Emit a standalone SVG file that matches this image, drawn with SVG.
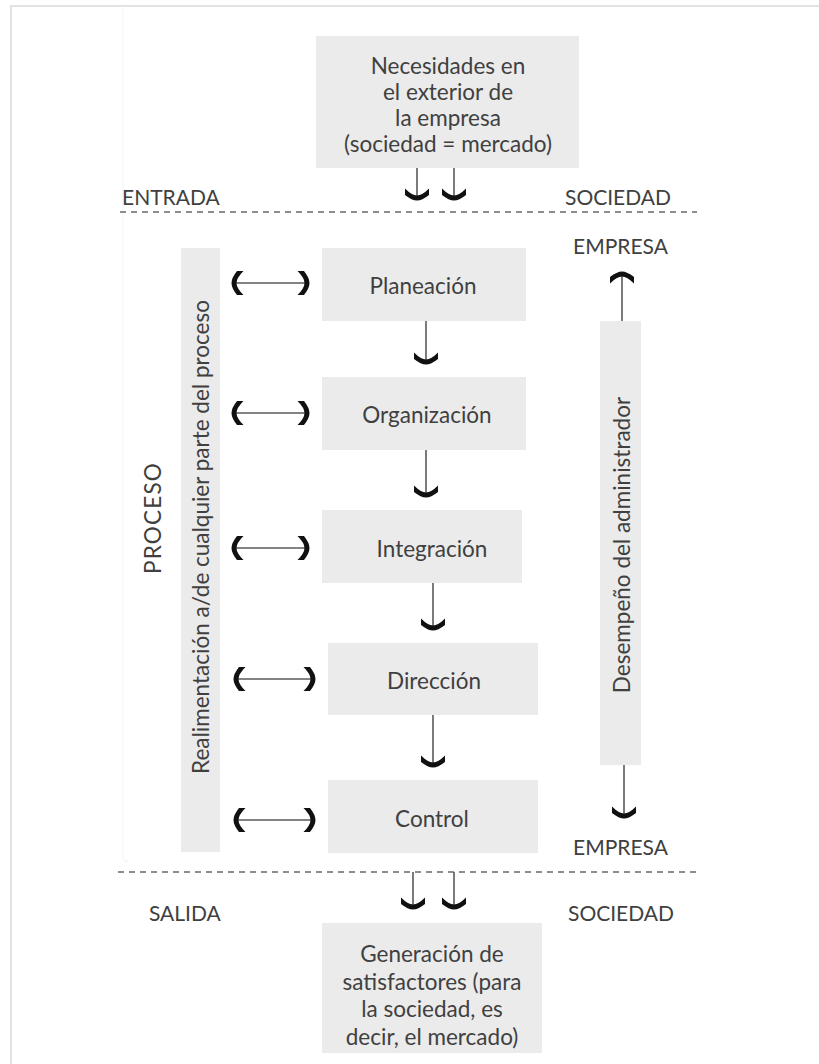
<svg xmlns="http://www.w3.org/2000/svg" width="819" height="1064" viewBox="0 0 819 1064">
  <style>
    .box { fill: #ebebeb; }
    .lbl { font-family: Lato, "Open Sans", "Liberation Sans", sans-serif; fill: #404040; font-size: 22.5px; }
    .mid { text-anchor: middle; dominant-baseline: central; }
    .cap { font-size: 21px; dominant-baseline: central; }
    .flow { stroke: #5a5a5a; stroke-width: 1.6; fill: none; }
    .dash { stroke: #6a6a6a; stroke-width: 1.3; stroke-dasharray: 6 5; fill: none; }
  </style>
  <defs>
    <!-- bold bracket-style arrowhead, tip towards +x -->
    <marker id="head" markerUnits="userSpaceOnUse" markerWidth="16" markerHeight="28" viewBox="-11 -14 16 28" refX="0" refY="0" orient="auto-start-reverse">
      <path d="M-2,-12 Q3.5,-5 3.5,0 Q3.5,5 -2,12 L-8.5,12 Q-1.5,5 -1.5,0 Q-1.5,-5 -8.5,-12 Z" fill="#111"/>
    </marker>
  </defs>

  <rect width="819" height="1064" fill="#ffffff"/>
  <!-- page frame -->
  <path d="M11,1064 V6 H819" fill="none" stroke="#e2e2e2" stroke-width="2"/>
  <path d="M123,6 V856 Q123,862 129,862" fill="none" stroke="#f3f3f3" stroke-width="1"/>

  <!-- section dividers and zone captions -->
  <g id="zones">
    <line class="dash" x1="120" y1="212" x2="697" y2="212"/>
    <line class="dash" x1="118" y1="872" x2="697" y2="872"/>
    <text class="lbl cap" x="122" y="196">ENTRADA</text>
    <text class="lbl cap" x="565" y="196">SOCIEDAD</text>
    <text class="lbl cap" x="573" y="245">EMPRESA</text>
    <text class="lbl cap" x="573" y="846">EMPRESA</text>
    <text class="lbl cap" x="149" y="912">SALIDA</text>
    <text class="lbl cap" x="568" y="912">SOCIEDAD</text>
    <text class="lbl mid" font-size="27" letter-spacing="1.2" transform="translate(152,518) rotate(-90)">PROCESO</text>
  </g>

  <!-- external input -->
  <g id="necesidades">
    <rect class="box" x="316" y="36" width="263" height="132"/>
    <text class="lbl mid" font-size="23.5" x="448" y="65">Necesidades en</text>
    <text class="lbl mid" font-size="23.5" x="448" y="91">el exterior de</text>
    <text class="lbl mid" font-size="23.5" x="448" y="117">la empresa</text>
    <text class="lbl mid" font-size="23.5" x="448" y="143">(sociedad = mercado)</text>
  </g>

  <!-- feedback bar -->
  <g id="realimentacion">
    <rect class="box" x="181" y="248" width="39" height="604"/>
    <text class="lbl mid" font-size="19.5" transform="translate(200,537) rotate(-90)">Realimentación a/de cualquier parte del proceso</text>
  </g>

  <!-- manager performance bar -->
  <g id="desempeno">
    <rect class="box" x="600" y="321" width="41" height="444"/>
    <text class="lbl mid" font-size="19.5" transform="translate(621,545) rotate(-90)">Desempeño del administrador</text>
  </g>

  <!-- process stages -->
  <g id="planeacion">
    <rect class="box" x="322" y="248" width="204" height="73"/>
    <text class="lbl mid" x="423" y="285">Planeación</text>
  </g>
  <g id="organizacion">
    <rect class="box" x="322" y="377" width="204" height="73"/>
    <text class="lbl mid" x="427" y="414">Organización</text>
  </g>
  <g id="integracion">
    <rect class="box" x="322" y="510" width="200" height="73"/>
    <text class="lbl mid" x="432" y="548">Integración</text>
  </g>
  <g id="direccion">
    <rect class="box" x="328" y="643" width="210" height="72"/>
    <text class="lbl mid" x="434" y="680">Dirección</text>
  </g>
  <g id="control">
    <rect class="box" x="328" y="780" width="210" height="73"/>
    <text class="lbl mid" x="432" y="818">Control</text>
  </g>

  <!-- external output -->
  <g id="generacion">
    <rect class="box" x="322" y="923" width="220" height="130"/>
    <text class="lbl mid" x="432" y="953">Generación de</text>
    <text class="lbl mid" x="432" y="981">satisfactores (para</text>
    <text class="lbl mid" x="432" y="1008">la sociedad, es</text>
    <text class="lbl mid" x="432" y="1036">decir, el mercado)</text>
  </g>

  <!-- connectors -->
  <g id="connectors">
    <line class="flow" x1="417" y1="168" x2="417" y2="197" marker-end="url(#head)"/>
    <line class="flow" x1="454" y1="168" x2="454" y2="197" marker-end="url(#head)"/>

    <line class="flow" x1="426" y1="321" x2="426" y2="361" marker-end="url(#head)"/>
    <line class="flow" x1="426" y1="450" x2="426" y2="494" marker-end="url(#head)"/>
    <line class="flow" x1="433" y1="583" x2="433" y2="627" marker-end="url(#head)"/>
    <line class="flow" x1="433" y1="715" x2="433" y2="764" marker-end="url(#head)"/>

    <line class="flow" x1="413" y1="872" x2="413" y2="906" marker-end="url(#head)"/>
    <line class="flow" x1="454" y1="872" x2="454" y2="906" marker-end="url(#head)"/>

    <line class="flow" x1="622" y1="321" x2="622" y2="275" marker-end="url(#head)"/>
    <line class="flow" x1="624" y1="765" x2="624" y2="815" marker-end="url(#head)"/>

    <line class="flow" x1="235" y1="283" x2="306" y2="283" marker-start="url(#head)" marker-end="url(#head)"/>
    <line class="flow" x1="235" y1="413" x2="306" y2="413" marker-start="url(#head)" marker-end="url(#head)"/>
    <line class="flow" x1="235" y1="548" x2="306" y2="548" marker-start="url(#head)" marker-end="url(#head)"/>
    <line class="flow" x1="237" y1="679" x2="312" y2="679" marker-start="url(#head)" marker-end="url(#head)"/>
    <line class="flow" x1="237" y1="820" x2="312" y2="820" marker-start="url(#head)" marker-end="url(#head)"/>
  </g>
</svg>
